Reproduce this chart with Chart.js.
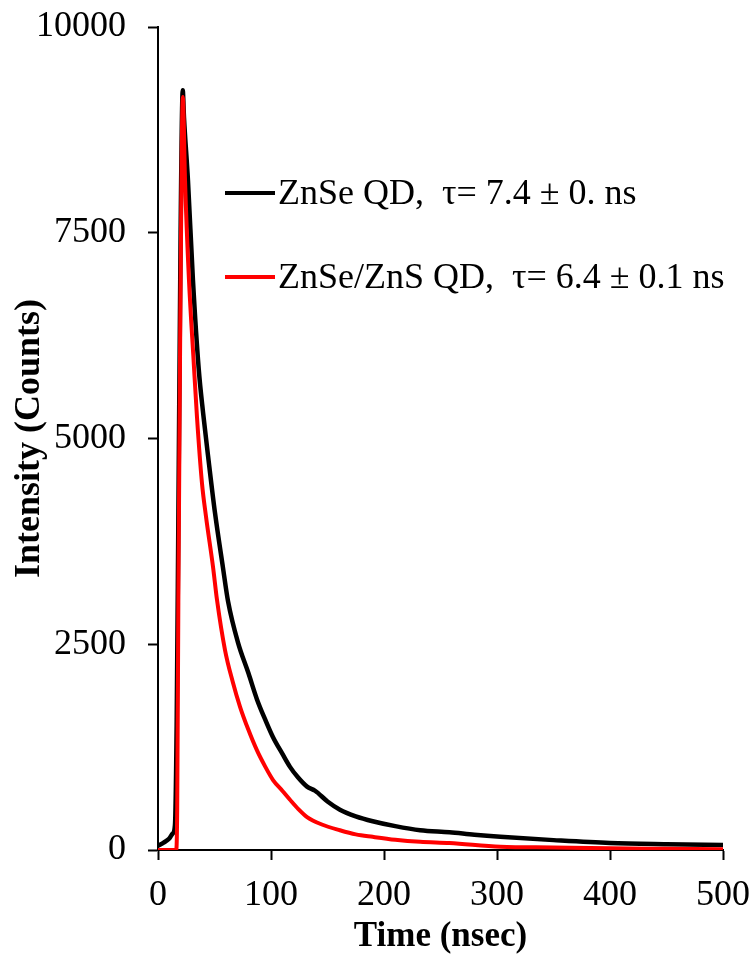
<!DOCTYPE html>
<html lang="en">
<head>
    <meta charset="UTF-8">
    <title>Fluorescence Decay ZnSe QDs</title>
    <script src="https://cdn.jsdelivr.net/npm/chart.js"></script>
    <style>
        body {
            margin: 0;
            background: white;
        }
    </style>
</head>
<body>

    <canvas id="decayChart" width="753" height="955"></canvas>

    <script>
        // time in ns, intensity in counts
        const timeZnSe = [0, 5, 10, 13, 15, 16.5, 18, 20, 21.9, 23, 26.5, 30.9, 36, 40, 44.2, 50.4, 57.5, 62, 70.8, 80, 87.6, 95, 101.8, 110, 116.8, 124, 131.9, 139, 150, 161, 175, 190, 210, 232, 258, 280, 303, 350, 400, 450, 500];
        const countsZnSe = [50, 90, 140, 200, 300, 1500, 4000, 7500, 9230, 8900, 8140, 6930, 5850, 5300, 4800, 4100, 3430, 3020, 2520, 2150, 1830, 1580, 1370, 1170, 1010, 880, 770, 720, 590, 490, 410, 350, 290, 240, 215, 185, 160, 120, 85, 70, 60];

        const timeZnSeZnS = [0, 10, 16, 17, 18, 19.5, 21, 22, 23.9, 27.4, 31.5, 34.5, 38.9, 42.5, 48.7, 52.2, 59.3, 66, 72.6, 80, 87.6, 95, 101.8, 110, 116.8, 124, 131.9, 145, 161, 175, 190, 210, 232, 258, 303, 350, 400, 450, 500];
        const countsZnSeZnS = [0, 0, 0, 500, 3000, 6000, 8500, 9150, 8140, 6930, 5950, 5260, 4460, 4050, 3440, 3040, 2430, 2050, 1740, 1460, 1210, 1010, 850, 720, 610, 500, 400, 310, 240, 190, 160, 125, 100, 85, 40, 30, 20, 15, 10];

        const legendLabels = ["ZnSe QD,  \u03c4= 7.4 \u00b1 0. ns", "ZnSe/ZnS QD,  \u03c4= 6.4 \u00b1 0.1 ns"];
        const lineColors = ["#000000", "#ff0000"];

        const xTicks = [0, 100, 200, 300, 400, 500];
        const yTicks = [0, 2500, 5000, 7500, 10000];

        const serif = "'Liberation Serif', 'Times New Roman', serif";

        function toPoints(xs, ys) {
            return xs.map((x, i) => ({ x: x, y: ys[i] }));
        }

        // legend drawn inside the plot, as in the original figure
        const insideLegend = {
            id: "insideLegend",
            afterDraw(chart) {
                const ctx = chart.ctx;
                const rows = [193, 277];
                ctx.save();
                ctx.font = "36px " + serif;
                ctx.textBaseline = "middle";
                ctx.textAlign = "left";
                legendLabels.forEach((label, i) => {
                    ctx.strokeStyle = lineColors[i];
                    ctx.lineWidth = 4;
                    ctx.beginPath();
                    ctx.moveTo(225, rows[i]);
                    ctx.lineTo(275, rows[i]);
                    ctx.stroke();
                    ctx.fillStyle = "#000";
                    ctx.fillText(label, 278, rows[i] + 2);
                });
                ctx.restore();
            }
        };

        const ctx = document.getElementById("decayChart").getContext("2d");

        new Chart(ctx, {
            type: "line",
            data: {
                datasets: [
                    {
                        label: legendLabels[0],
                        data: toPoints(timeZnSe, countsZnSe),
                        borderColor: lineColors[0],
                        borderWidth: 4.5,
                        pointRadius: 0,
                        cubicInterpolationMode: "monotone",
                        order: 2
                    },
                    {
                        label: legendLabels[1],
                        data: toPoints(timeZnSeZnS, countsZnSeZnS),
                        borderColor: lineColors[1],
                        borderWidth: 4,
                        pointRadius: 0,
                        cubicInterpolationMode: "monotone",
                        order: 1
                    }
                ]
            },
            options: {
                responsive: false,
                animation: false,
                devicePixelRatio: 1,
                layout: {
                    padding: { top: 27, right: 30, left: 0, bottom: 0 }
                },
                plugins: {
                    legend: { display: false },
                    tooltip: { enabled: false }
                },
                scales: {
                    x: {
                        type: "linear",
                        min: 0,
                        max: 500,
                        afterBuildTicks: axis => { axis.ticks = xTicks.map(v => ({ value: v })); },
                        afterFit: axis => {
                            axis.height = 105;
                            axis.paddingLeft = 0;
                            axis.paddingRight = 0;
                        },
                        grid: {
                            drawOnChartArea: false,
                            drawTicks: true,
                            tickLength: 10,
                            tickWidth: 2,
                            tickColor: "#000"
                        },
                        border: { color: "#000", width: 2 },
                        ticks: {
                            color: "#000",
                            padding: 14,
                            maxRotation: 0,
                            font: { family: serif, size: 36 }
                        },
                        title: {
                            display: true,
                            text: "Time (nsec)",
                            color: "#000",
                            padding: { top: 0, bottom: -3 },
                            font: { family: serif, size: 35, weight: "bold" }
                        }
                    },
                    y: {
                        min: 0,
                        max: 10000,
                        afterBuildTicks: axis => { axis.ticks = yTicks.map(v => ({ value: v })); },
                        afterFit: axis => {
                            axis.width = 158;
                            axis.paddingTop = 0;
                            axis.paddingBottom = 0;
                        },
                        grid: {
                            drawOnChartArea: false,
                            drawTicks: true,
                            tickLength: 10,
                            tickWidth: 2,
                            tickColor: "#000"
                        },
                        border: { color: "#000", width: 2 },
                        ticks: {
                            color: "#000",
                            padding: 22,
                            font: { family: serif, size: 36 },
                            callback: v => String(v)
                        },
                        title: {
                            display: true,
                            text: "Intensity (Counts)",
                            color: "#000",
                            padding: { top: 8, bottom: 0 },
                            font: { family: serif, size: 36, weight: "bold" }
                        }
                    }
                }
            },
            plugins: [insideLegend]
        });
    </script>

</body>
</html>
